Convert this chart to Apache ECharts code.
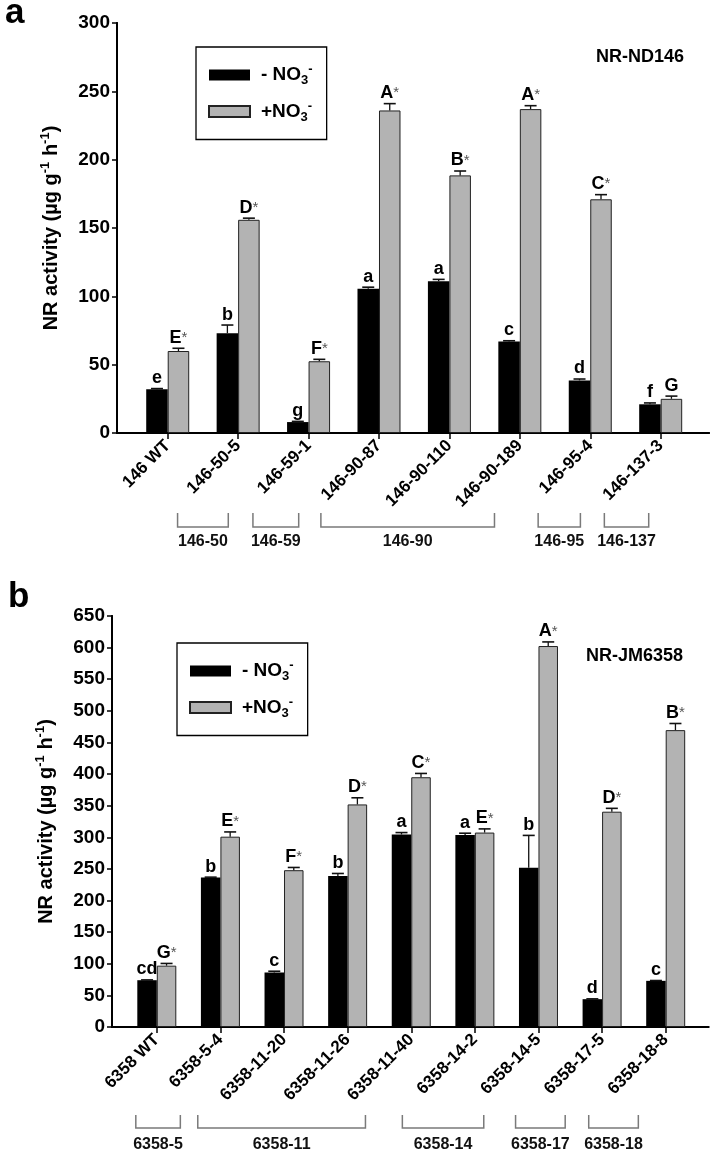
<!DOCTYPE html>
<html><head><meta charset="utf-8">
<script src="https://cdn.jsdelivr.net/npm/echarts@6/dist/echarts.min.js"></script>
<style>html,body{margin:0;padding:0;background:#fff}#c{width:717px;height:1156px}</style>
</head><body><div id="c"></div>
<script>
// ---------- Panel a data ----------
const catsA = ['146 WT','146-50-5','146-59-1','146-90-87','146-90-110','146-90-189','146-95-4','146-137-3'];
const minusA = [32, 73, 8, 105.5, 111, 67, 38.5, 21];
const minusErrA = [0.5, 6, 0.5, 1.2, 1.4, 0.5, 1, 1];
const plusA = [60, 156, 52.5, 236, 188.5, 237, 171, 25];
const plusErrA = [2, 1.2, 1.4, 5, 3.2, 2.5, 3.4, 2];
const minusLetA = ['e','b','g','a','a','c','d','f'];
const plusLetA = ['E*','D*','F*','A*','B*','A*','C*','G'];
const yMaxA = 300, yStepA = 50;
const grpNamesA = ['146-50','146-59','146-90','146-95','146-137'];
const grpFromA = [0.14, 1.21, 2.175, 5.26, 6.2];
const grpToA = [0.86, 1.86, 4.64, 5.86, 6.83];

// ---------- Panel b data ----------
const catsB = ['6358 WT','6358-5-4','6358-11-20','6358-11-26','6358-11-40','6358-14-2','6358-14-5','6358-17-5','6358-18-8'];
const minusB = [74, 236.5, 86, 239, 304.5, 303.5, 252, 44, 73];
const minusErrB = [0.5, 0.5, 2.2, 3.8, 3, 3, 51, 0.5, 0.5];
const plusB = [97, 301, 248, 352, 395, 307.5, 602.5, 340.5, 469.5];
const plusErrB = [3.5, 7.5, 4.3, 10.5, 6, 5.8, 6.5, 5.3, 10.5];
const minusLetB = ['cd','b','c','b','a','a','b','d','c'];
const plusLetB = ['G*','E*','F*','D*','C*','E*','A*','D*','B*'];
const yMaxB = 650, yStepB = 50;
const grpNamesB = ['6358-5','6358-11','6358-14','6358-17','6358-18'];
const grpFromB = [-0.33, 0.644, 3.86, 5.64, 6.79];
const grpToB = [0.37, 3.28, 5.14, 6.42, 7.57];

const FONT = '"Liberation Sans", Arial, sans-serif';
const chart = echarts.init(document.getElementById('c'));

const L = {
  A: {frame:{left:117, top:23, width:592, height:410}, main:{left:132.5, width:563.4}, bw:21.5, cap:12,
      br:{top:80, bot:94, lab:109}},
  B: {frame:{left:112, top:616, width:596.5, height:411}, main:{left:125, width:572.5}, bw:19.5, cap:12,
      br:{top:88, bot:101, lab:118}}
};

function errSeries(xi, yi, vals, errs, letters, off, cap) {
  return {
    type:'custom', xAxisIndex:xi, yAxisIndex:yi, clip:false, silent:true, z:5,
    data: vals.map((v,k)=>[k, v, errs[k]]),
    renderItem: (params, api) => {
      const k = api.value(0), v = api.value(1), e = api.value(2);
      const p0 = api.coord([k, v]), p1 = api.coord([k, v + e]);
      const x = p0[0] + off;
      const lt = letters[params.dataIndex];
      const txt = lt.endsWith('*') ? '{l|' + lt.slice(0,-1) + '}{s|*}' : '{l|' + lt + '}';
      return {type:'group', children:[
        {type:'line', shape:{x1:x, y1:p0[1], x2:x, y2:p1[1]}, style:{stroke:'#111', lineWidth:1.3}},
        {type:'line', shape:{x1:x-cap/2, y1:p1[1], x2:x+cap/2, y2:p1[1]}, style:{stroke:'#111', lineWidth:1.6}},
        {type:'text', x:x, y:p1[1]-1, style:{text:txt, align:'center', verticalAlign:'bottom',
          rich:{l:{fontFamily:FONT, fontWeight:'bold', fontSize:18, fill:'#000', lineHeight:19},
                s:{fontFamily:FONT, fontWeight:'normal', fontSize:15, fill:'#555', lineHeight:19}}}}
      ]};
    }
  };
}

function bracketSeries(xi, yi, names, from, to, br) {
  return {
    type:'custom', xAxisIndex:xi, yAxisIndex:yi, clip:false, silent:true,
    data: names.map((n,k)=>[from[k], to[k]]),
    renderItem: (params, api) => {
      const a = api.coord([api.value(0), 0]), b = api.coord([api.value(1), 0]);
      const y0 = a[1];
      return {type:'group', children:[
        {type:'polyline', shape:{points:[[a[0], y0+br.top],[a[0], y0+br.bot],[b[0], y0+br.bot],[b[0], y0+br.top]]},
          style:{stroke:'#7a7a7a', lineWidth:1.5, fill:null}},
        {type:'text', x:(a[0]+b[0])/2, y:y0+br.lab, style:{text:names[params.dataIndex], align:'center', verticalAlign:'middle',
          font:'bold 16px ' + FONT, fill:'#111'}}
      ]};
    }
  };
}

const axisNameRich = {
  sup:{fontFamily:FONT, fontWeight:'bold', fontSize:13, verticalAlign:'top', lineHeight:24, color:'#000'}
};

function panel(key, cats, yMax, yStep, gi) {
  const c = L[key];
  const grids = [
    {left:c.frame.left, top:c.frame.top, width:c.frame.width, height:c.frame.height},
    {left:c.main.left, top:c.frame.top, width:c.main.width, height:c.frame.height}
  ];
  const frameLine = {show:true, lineStyle:{color:'#000', width:2}};
  const xAxes = [
    {type:'value', gridIndex:gi, min:0, max:1, position:'bottom', axisLine:frameLine, axisTick:{show:false}, axisLabel:{show:false}, splitLine:{show:false}},
    {type:'value', gridIndex:gi, min:0, max:1, position:'top', axisLine:frameLine, axisTick:{show:false}, axisLabel:{show:false}, splitLine:{show:false}},
    {type:'category', gridIndex:gi+1, data:cats, boundaryGap:true, axisLine:{show:false},
      axisTick:{show:true, alignWithLabel:true, length:6, lineStyle:{color:'#000', width:1.5}},
      axisLabel:{rotate:45, margin:10, interval:0, fontFamily:FONT, fontWeight:'bold', fontSize:17, color:'#000'}},
    {type:'value', gridIndex:gi+1, min:-0.5, max:cats.length-0.5, show:false}
  ];
  const yAxes = [
    {type:'value', gridIndex:gi, min:0, max:yMax, interval:yStep, position:'left',
      axisLine:frameLine, axisTick:{show:true, length:5, lineStyle:{color:'#000', width:1.5}},
      axisLabel:{margin:7, fontFamily:FONT, fontWeight:'bold', fontSize:19, color:'#000'}, splitLine:{show:false},
      name:'NR activity (µg g{sup|-1} h{sup|-1})', nameLocation:'middle', nameGap:54,
      nameTextStyle:{fontFamily:FONT, fontWeight:'bold', fontSize:20, color:'#000', lineHeight:24, rich:axisNameRich}},
    {type:'value', gridIndex:gi, min:0, max:yMax, position:'right', axisLine:frameLine, axisTick:{show:false}, axisLabel:{show:false}, splitLine:{show:false}},
    {type:'value', gridIndex:gi+1, min:0, max:yMax, show:false}
  ];
  return {grids, xAxes, yAxes};
}

const pA = panel('A', catsA, yMaxA, yStepA, 0);
const pB = panel('B', catsB, yMaxB, yStepB, 2);

const legendRich = {
  sub:{fontFamily:FONT, fontWeight:'bold', fontSize:13, verticalAlign:'bottom', lineHeight:24},
  sup:{fontFamily:FONT, fontWeight:'bold', fontSize:13, verticalAlign:'top', lineHeight:24}
};
function legendCfg(left, top) {
  return {data:['minus','plus'], orient:'vertical', left:left, top:top, icon:'rect', itemWidth:41, itemHeight:11,
    itemGap:12.5, padding:[16, 14, 16, 12], borderColor:'#000', borderWidth:1.3, selectedMode:false,
    formatter: n => n === 'minus' ? '- NO{sub|3}{sup|-}' : '+NO{sub|3}{sup|-}',
    textStyle:{fontFamily:FONT, fontWeight:'bold', fontSize:19, color:'#000', lineHeight:24, padding:[0,0,0,6], rich:legendRich}};
}

const barBlack = {color:'#000'};
const barGrey = {color:'#b3b3b3', borderColor:'#222', borderWidth:1};

chart.setOption({
  animation:false,
  backgroundColor:'#fff',
  grid: pA.grids.concat(pB.grids),
  xAxis: pA.xAxes.concat(pB.xAxes),
  yAxis: pA.yAxes.concat(pB.yAxes),
  legend: [legendCfg(196, 47), legendCfg(177, 643)],
  title: [
    {text:'NR-ND146', left:596, top:48, textStyle:{fontFamily:FONT, fontWeight:'bold', fontSize:18, color:'#000'}, padding:0},
    {text:'NR-JM6358', left:586, top:647, textStyle:{fontFamily:FONT, fontWeight:'bold', fontSize:18, color:'#000'}, padding:0}
  ],
  graphic: [
    {type:'text', left:5, top:-4, style:{text:'a', font:'bold 35px ' + FONT, fill:'#000'}},
    {type:'text', left:8, top:580, style:{text:'b', font:'bold 35px ' + FONT, fill:'#000'}}
  ],
  series: [
    {name:'minus', type:'bar', xAxisIndex:2, yAxisIndex:2, data:minusA, barWidth:L.A.bw, barGap:'0%', itemStyle:barBlack},
    {name:'plus', type:'bar', xAxisIndex:2, yAxisIndex:2, data:plusA, barWidth:L.A.bw, barGap:'0%', itemStyle:barGrey},
    errSeries(2, 2, minusA, minusErrA, minusLetA, -L.A.bw/2, L.A.cap),
    errSeries(2, 2, plusA, plusErrA, plusLetA, L.A.bw/2, L.A.cap),
    bracketSeries(3, 2, grpNamesA, grpFromA, grpToA, L.A.br),
    {name:'minus', type:'bar', xAxisIndex:6, yAxisIndex:5, data:minusB, barWidth:L.B.bw, barGap:'0%', itemStyle:barBlack},
    {name:'plus', type:'bar', xAxisIndex:6, yAxisIndex:5, data:plusB, barWidth:L.B.bw, barGap:'0%', itemStyle:barGrey},
    errSeries(6, 5, minusB, minusErrB, minusLetB, -L.B.bw/2, L.B.cap),
    errSeries(6, 5, plusB, plusErrB, plusLetB, L.B.bw/2, L.B.cap),
    bracketSeries(7, 5, grpNamesB, grpFromB, grpToB, L.B.br)
  ]
});
</script></body></html>
